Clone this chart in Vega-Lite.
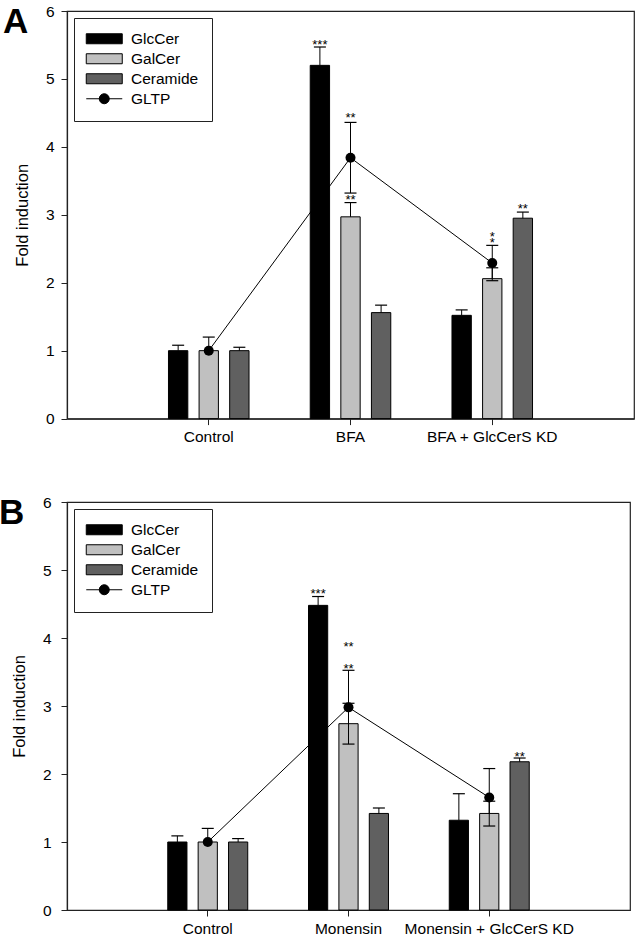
{
  "$schema": "https://vega.github.io/schema/vega-lite/v6.json",
  "padding": {"left": -2, "top": 3, "right": 0, "bottom": 0},
  "background": "white",
  "columns": 1,
  "align": "none",
  "spacing": 48,
  "config": {
    "font": "Liberation Sans",
    "view": {"stroke": "#222222", "strokeWidth": 1.2},
    "style": {"guide-label": {"font": "Liberation Sans", "fontSize": 15.5, "fill": "black"}, "guide-title": {"font": "Liberation Sans", "fontSize": 16.5, "fill": "black"}},
    "axis": {"labelFont": "Liberation Sans", "labelFontSize": 15.5, "labelColor": "black", "titleFont": "Liberation Sans", "titleFontSize": 16.5, "titleFontWeight": "normal", "titleColor": "black", "domainColor": "#222222", "domainWidth": 1.2, "tickColor": "#222222", "tickSize": 6, "grid": false},
    "legend": {"orient": "none", "legendX": 7, "legendY": 7, "fillColor": "white", "strokeColor": "#222222", "padding": 13, "labelFont": "Liberation Sans", "labelFontSize": 15.5, "labelColor": "black", "symbolSize": 100, "symbolStrokeColor": "black", "symbolStrokeWidth": 1, "symbolOpacity": 1, "symbolOffset": 9.5, "labelOffset": 19, "rowPadding": 3}
  },
  "resolve": {"scale": {"fill": "independent", "shape": "independent", "x": "independent", "y": "independent", "xOffset": "independent"}},
  "datasets": {
    "barsA": [
      {"cond": "Control", "series": "GlcCer", "value": 1.0, "hi": 1.08},
      {"cond": "Control", "series": "GalCer", "value": 1.0, "hi": 1.2},
      {"cond": "Control", "series": "Ceramide", "value": 1.0, "hi": 1.05},
      {"cond": "BFA", "series": "GlcCer", "value": 5.2, "hi": 5.47},
      {"cond": "BFA", "series": "GalCer", "value": 2.97, "hi": 3.18},
      {"cond": "BFA", "series": "Ceramide", "value": 1.56, "hi": 1.67},
      {"cond": "BFA + GlcCerS KD", "series": "GlcCer", "value": 1.52, "hi": 1.6},
      {"cond": "BFA + GlcCerS KD", "series": "GalCer", "value": 2.06, "hi": 2.22},
      {"cond": "BFA + GlcCerS KD", "series": "Ceramide", "value": 2.95, "hi": 3.04}
    ],
    "gltpA": [
      {"cond": "Control", "series": "GLTP", "value": 1.0},
      {"cond": "BFA", "series": "GLTP", "value": 3.84, "lo": 3.32, "hi": 4.36},
      {"cond": "BFA + GlcCerS KD", "series": "GLTP", "value": 2.29, "lo": 2.03, "hi": 2.55}
    ],
    "starsA": [
      {"cond": "BFA", "series": "GlcCer", "pos": 5.54, "label": "***"},
      {"cond": "BFA + GlcCerS KD", "series": "Ceramide", "pos": 3.13, "label": "**"}
    ],
    "starsCenterA": [
      {"cond": "BFA", "pos": 4.47, "label": "**"},
      {"cond": "BFA", "pos": 3.26, "label": "**"},
      {"cond": "BFA + GlcCerS KD", "pos": 2.72, "label": "*"},
      {"cond": "BFA + GlcCerS KD", "pos": 2.63, "label": "*"}
    ],
    "barsB": [
      {"cond": "Control", "series": "GlcCer", "value": 1.0, "hi": 1.09},
      {"cond": "Control", "series": "GalCer", "value": 1.0, "hi": 1.2},
      {"cond": "Control", "series": "Ceramide", "value": 1.0, "hi": 1.05},
      {"cond": "Monensin", "series": "GlcCer", "value": 4.48, "hi": 4.61},
      {"cond": "Monensin", "series": "GalCer", "value": 2.74, "hi": 3.04},
      {"cond": "Monensin", "series": "Ceramide", "value": 1.42, "hi": 1.5},
      {"cond": "Monensin + GlcCerS KD", "series": "GlcCer", "value": 1.32, "hi": 1.71},
      {"cond": "Monensin + GlcCerS KD", "series": "GalCer", "value": 1.42, "hi": 1.6},
      {"cond": "Monensin + GlcCerS KD", "series": "Ceramide", "value": 2.18, "hi": 2.235}
    ],
    "gltpB": [
      {"cond": "Control", "series": "GLTP", "value": 1.0},
      {"cond": "Monensin", "series": "GLTP", "value": 2.98, "lo": 2.44, "hi": 3.525},
      {"cond": "Monensin + GlcCerS KD", "series": "GLTP", "value": 1.655, "lo": 1.235, "hi": 2.08}
    ],
    "starsB": [
      {"cond": "Monensin", "series": "GlcCer", "pos": 4.69, "label": "***"},
      {"cond": "Monensin + GlcCerS KD", "series": "Ceramide", "pos": 2.3, "label": "**"}
    ],
    "starsCenterB": [
      {"cond": "Monensin", "pos": 3.91, "label": "**"},
      {"cond": "Monensin", "pos": 3.59, "label": "**"}
    ]
  },
  "concat": [
    {
      "width": 567,
      "height": 407.6,
      "title": {"text": "A", "anchor": "start", "frame": "group", "fontSize": 35, "fontWeight": "bold", "font": "Liberation Sans", "color": "black", "baseline": "alphabetic", "offset": -64, "dx": -64},
      "encoding": {
        "x": {"field": "cond", "type": "nominal", "scale": {"domain": ["Control", "BFA", "BFA + GlcCerS KD"], "paddingInner": 0, "paddingOuter": 0.5}, "axis": {"title": null, "labelAngle": 0, "labelPadding": 5, "labelFont": "Liberation Sans", "labelFontSize": 15.5, "labelColor": "black", "tickSize": 6}}
      },
      "layer": [
        {
          "data": {"name": "barsA"},
          "mark": {"type": "bar", "stroke": "black", "strokeWidth": 1},
          "encoding": {
            "xOffset": {"field": "series", "type": "nominal", "scale": {"domain": ["GlcCer", "GalCer", "Ceramide"], "paddingInner": 0.368, "paddingOuter": 1.171}},
            "y": {"field": "value", "type": "quantitative", "title": "Fold induction", "scale": {"domain": [0, 6], "nice": false}, "axis": {"values": [0, 1, 2, 3, 4, 5, 6], "format": "d", "labelPadding": 7, "titlePadding": 15, "labelFont": "Liberation Sans", "labelFontSize": 15.5, "labelColor": "black", "titleFont": "Liberation Sans", "titleFontSize": 16.5, "titleFontWeight": "normal", "titleColor": "black", "tickSize": 6}},
            "fill": {"field": "series", "type": "nominal", "scale": {"domain": ["GlcCer", "GalCer", "Ceramide", "GLTP"], "range": ["#000000", "#c0c0c0", "#606060", "#000000"]}, "legend": {"title": null, "labelFontSize": 15.5, "encode": {"symbols": {"update": {"stroke": {"value": "black"}, "strokeWidth": {"value": 1}}}}}}
          }
        },
        {
          "data": {"name": "barsA"},
          "mark": {"type": "rule", "color": "black", "strokeWidth": 1},
          "encoding": {
            "xOffset": {"field": "series", "type": "nominal"},
            "y": {"field": "value", "type": "quantitative", "title": "Fold induction"},
            "y2": {"field": "hi"}
          }
        },
        {
          "data": {"name": "barsA"},
          "mark": {"type": "point", "shape": "M-1,0H1", "size": 144, "filled": false, "stroke": "black", "strokeWidth": 1.2, "opacity": 1},
          "encoding": {
            "xOffset": {"field": "series", "type": "nominal"},
            "y": {"field": "hi", "type": "quantitative", "title": "Fold induction"}
          }
        },
        {
          "data": {"name": "gltpA"},
          "mark": {"type": "line", "color": "black", "strokeWidth": 1},
          "encoding": {
            "y": {"field": "value", "type": "quantitative", "title": "Fold induction"}
          }
        },
        {
          "data": {"name": "gltpA"},
          "mark": {"type": "rule", "color": "black", "strokeWidth": 1},
          "encoding": {
            "y": {"field": "lo", "type": "quantitative", "title": "Fold induction"},
            "y2": {"field": "hi"}
          }
        },
        {
          "data": {"name": "gltpA"},
          "mark": {"type": "point", "shape": "M-1,0H1", "size": 144, "filled": false, "stroke": "black", "strokeWidth": 1.2, "opacity": 1},
          "encoding": {
            "y": {"field": "hi", "type": "quantitative", "title": "Fold induction"}
          }
        },
        {
          "data": {"name": "gltpA"},
          "mark": {"type": "point", "shape": "M-1,0H1", "size": 144, "filled": false, "stroke": "black", "strokeWidth": 1.2, "opacity": 1},
          "encoding": {
            "y": {"field": "lo", "type": "quantitative", "title": "Fold induction"}
          }
        },
        {
          "data": {"name": "gltpA"},
          "mark": {"type": "point", "filled": true, "color": "black", "size": 100, "opacity": 1},
          "encoding": {
            "y": {"field": "value", "type": "quantitative", "title": "Fold induction"}
          }
        },
        {
          "data": {"name": "gltpA"},
          "mark": {"type": "point", "filled": true, "opacity": 0},
          "encoding": {
            "y": {"field": "value", "type": "quantitative", "title": "Fold induction"},
            "fill": {"field": "series", "type": "nominal", "legend": {"title": null, "labelFontSize": 15.5, "encode": {"symbols": {"update": {"stroke": {"value": "black"}, "strokeWidth": {"value": 1}}}}}},
            "shape": {"field": "series", "type": "nominal", "scale": {"domain": ["GlcCer", "GalCer", "Ceramide", "GLTP"], "range": ["M-3.6,-1H3.6V1H-3.6Z", "M-3.6,-1H3.6V1H-3.6Z", "M-3.6,-1H3.6V1H-3.6Z", "M-3.6,0H3.6M1,0A1,1,0,1,1,-1,0A1,1,0,1,1,1,0Z"]}, "legend": {"title": null, "labelFontSize": 15.5, "encode": {"symbols": {"update": {"stroke": {"value": "black"}, "strokeWidth": {"value": 1}}}}}}
          }
        },
        {
          "data": {"name": "starsA"},
          "mark": {"type": "text", "fontSize": 13, "dy": 7, "baseline": "alphabetic", "color": "black", "font": "Liberation Sans"},
          "encoding": {
            "xOffset": {"field": "series", "type": "nominal"},
            "y": {"field": "pos", "type": "quantitative", "title": "Fold induction"},
            "text": {"field": "label"}
          }
        },
        {
          "data": {"name": "starsCenterA"},
          "mark": {"type": "text", "fontSize": 13, "dy": 7, "baseline": "alphabetic", "color": "black", "font": "Liberation Sans"},
          "encoding": {
            "y": {"field": "pos", "type": "quantitative", "title": "Fold induction"},
            "text": {"field": "label"}
          }
        }
      ]
    },
    {
      "width": 563,
      "height": 408,
      "title": {"text": "B", "anchor": "start", "frame": "group", "fontSize": 35, "fontWeight": "bold", "font": "Liberation Sans", "color": "black", "baseline": "alphabetic", "offset": -64, "dx": -68},
      "encoding": {
        "x": {"field": "cond", "type": "nominal", "scale": {"domain": ["Control", "Monensin", "Monensin + GlcCerS KD"], "paddingInner": 0, "paddingOuter": 0.5}, "axis": {"title": null, "labelAngle": 0, "labelPadding": 5, "labelFont": "Liberation Sans", "labelFontSize": 15.5, "labelColor": "black", "tickSize": 6}}
      },
      "layer": [
        {
          "data": {"name": "barsB"},
          "mark": {"type": "bar", "stroke": "black", "strokeWidth": 1},
          "encoding": {
            "xOffset": {"field": "series", "type": "nominal", "scale": {"domain": ["GlcCer", "GalCer", "Ceramide"], "paddingInner": 0.368, "paddingOuter": 1.171}},
            "y": {"field": "value", "type": "quantitative", "title": "Fold induction", "scale": {"domain": [0, 6], "nice": false}, "axis": {"values": [0, 1, 2, 3, 4, 5, 6], "format": "d", "labelPadding": 10, "titlePadding": 15, "labelFont": "Liberation Sans", "labelFontSize": 15.5, "labelColor": "black", "titleFont": "Liberation Sans", "titleFontSize": 16.5, "titleFontWeight": "normal", "titleColor": "black", "tickSize": 6}},
            "fill": {"field": "series", "type": "nominal", "scale": {"domain": ["GlcCer", "GalCer", "Ceramide", "GLTP"], "range": ["#000000", "#c0c0c0", "#606060", "#000000"]}, "legend": {"title": null, "labelFontSize": 15.5, "encode": {"symbols": {"update": {"stroke": {"value": "black"}, "strokeWidth": {"value": 1}}}}}}
          }
        },
        {
          "data": {"name": "barsB"},
          "mark": {"type": "rule", "color": "black", "strokeWidth": 1},
          "encoding": {
            "xOffset": {"field": "series", "type": "nominal"},
            "y": {"field": "value", "type": "quantitative", "title": "Fold induction"},
            "y2": {"field": "hi"}
          }
        },
        {
          "data": {"name": "barsB"},
          "mark": {"type": "point", "shape": "M-1,0H1", "size": 144, "filled": false, "stroke": "black", "strokeWidth": 1.2, "opacity": 1},
          "encoding": {
            "xOffset": {"field": "series", "type": "nominal"},
            "y": {"field": "hi", "type": "quantitative", "title": "Fold induction"}
          }
        },
        {
          "data": {"name": "gltpB"},
          "mark": {"type": "line", "color": "black", "strokeWidth": 1},
          "encoding": {
            "y": {"field": "value", "type": "quantitative", "title": "Fold induction"}
          }
        },
        {
          "data": {"name": "gltpB"},
          "mark": {"type": "rule", "color": "black", "strokeWidth": 1},
          "encoding": {
            "y": {"field": "lo", "type": "quantitative", "title": "Fold induction"},
            "y2": {"field": "hi"}
          }
        },
        {
          "data": {"name": "gltpB"},
          "mark": {"type": "point", "shape": "M-1,0H1", "size": 144, "filled": false, "stroke": "black", "strokeWidth": 1.2, "opacity": 1},
          "encoding": {
            "y": {"field": "hi", "type": "quantitative", "title": "Fold induction"}
          }
        },
        {
          "data": {"name": "gltpB"},
          "mark": {"type": "point", "shape": "M-1,0H1", "size": 144, "filled": false, "stroke": "black", "strokeWidth": 1.2, "opacity": 1},
          "encoding": {
            "y": {"field": "lo", "type": "quantitative", "title": "Fold induction"}
          }
        },
        {
          "data": {"name": "gltpB"},
          "mark": {"type": "point", "filled": true, "color": "black", "size": 100, "opacity": 1},
          "encoding": {
            "y": {"field": "value", "type": "quantitative", "title": "Fold induction"}
          }
        },
        {
          "data": {"name": "gltpB"},
          "mark": {"type": "point", "filled": true, "opacity": 0},
          "encoding": {
            "y": {"field": "value", "type": "quantitative", "title": "Fold induction"},
            "fill": {"field": "series", "type": "nominal", "legend": {"title": null, "labelFontSize": 15.5, "encode": {"symbols": {"update": {"stroke": {"value": "black"}, "strokeWidth": {"value": 1}}}}}},
            "shape": {"field": "series", "type": "nominal", "scale": {"domain": ["GlcCer", "GalCer", "Ceramide", "GLTP"], "range": ["M-3.6,-1H3.6V1H-3.6Z", "M-3.6,-1H3.6V1H-3.6Z", "M-3.6,-1H3.6V1H-3.6Z", "M-3.6,0H3.6M1,0A1,1,0,1,1,-1,0A1,1,0,1,1,1,0Z"]}, "legend": {"title": null, "labelFontSize": 15.5, "encode": {"symbols": {"update": {"stroke": {"value": "black"}, "strokeWidth": {"value": 1}}}}}}
          }
        },
        {
          "data": {"name": "starsB"},
          "mark": {"type": "text", "fontSize": 13, "dy": 7, "baseline": "alphabetic", "color": "black", "font": "Liberation Sans"},
          "encoding": {
            "xOffset": {"field": "series", "type": "nominal"},
            "y": {"field": "pos", "type": "quantitative", "title": "Fold induction"},
            "text": {"field": "label"}
          }
        },
        {
          "data": {"name": "starsCenterB"},
          "mark": {"type": "text", "fontSize": 13, "dy": 7, "baseline": "alphabetic", "color": "black", "font": "Liberation Sans"},
          "encoding": {
            "y": {"field": "pos", "type": "quantitative", "title": "Fold induction"},
            "text": {"field": "label"}
          }
        }
      ]
    }
  ]
}
